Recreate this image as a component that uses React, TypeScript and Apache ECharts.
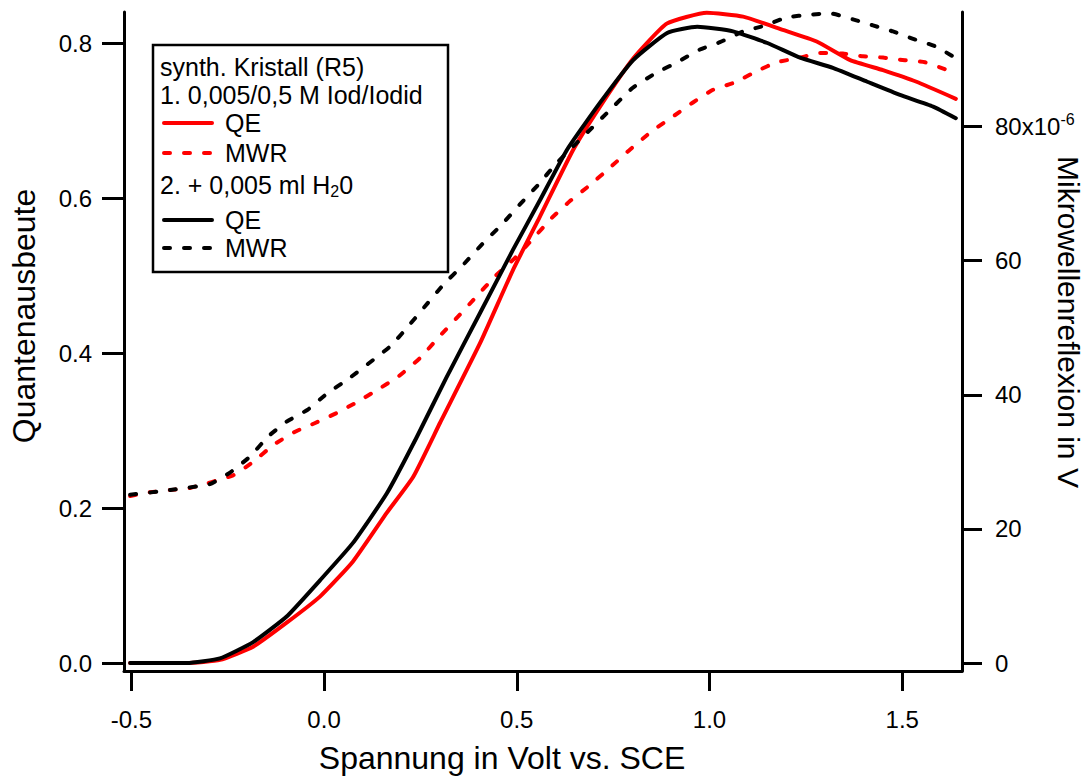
import React, { useEffect, useRef } from "react";
import * as echarts from "echarts";

// Series 1: synth. Kristall (R5), 0,005/0,5 M Iod/Iodid
const QE1_X = [-0.503, -0.356, -0.27, -0.184, -0.097, -0.01, 0.075, 0.163, 0.231, 0.301, 0.405, 0.49, 0.56, 0.646, 0.716, 0.802, 0.889, 0.993, 1.087, 1.19, 1.278, 1.365, 1.45, 1.537, 1.639];
const QE1_Y = [0.0, 0.0, 0.004, 0.021, 0.052, 0.086, 0.131, 0.194, 0.24, 0.31, 0.413, 0.507, 0.576, 0.662, 0.718, 0.78, 0.825, 0.839, 0.834, 0.817, 0.802, 0.778, 0.765, 0.75, 0.728];
const MWR1_X = [-0.503, -0.46, -0.399, -0.348, -0.236, -0.184, -0.132, -0.075, -0.023, 0.033, 0.085, 0.137, 0.192, 0.249, 0.296, 0.348, 0.396, 0.444, 0.495, 0.539, 0.591, 0.638, 0.69, 0.742, 0.794, 0.85, 0.905, 0.957, 1.009, 1.066, 1.123, 1.175, 1.235, 1.287, 1.346, 1.398, 1.45, 1.507, 1.559, 1.619];
const MWR1_Y = [24.9, 25.4, 25.8, 26.1, 28.0, 30.0, 32.5, 34.5, 35.8, 37.3, 38.9, 40.7, 42.7, 45.5, 48.5, 51.7, 54.7, 57.7, 60.4, 63.1, 66.4, 68.9, 71.3, 73.9, 76.6, 79.3, 81.5, 83.6, 85.5, 86.6, 88.3, 89.6, 90.3, 91.0, 90.9, 90.5, 90.3, 89.9, 89.6, 88.4];

// Series 2: + 0,005 ml H2O
const QE2_X = [-0.503, -0.356, -0.27, -0.184, -0.097, -0.01, 0.075, 0.163, 0.24, 0.318, 0.405, 0.49, 0.56, 0.63, 0.716, 0.802, 0.89, 0.968, 1.061, 1.15, 1.235, 1.32, 1.409, 1.494, 1.58, 1.639];
const QE2_Y = [0.0, 0.0, 0.006, 0.027, 0.06, 0.107, 0.155, 0.219, 0.291, 0.369, 0.452, 0.533, 0.597, 0.662, 0.723, 0.778, 0.813, 0.821, 0.815, 0.8, 0.781, 0.768, 0.75, 0.733, 0.718, 0.703];
const MWR2_X = [-0.503, -0.399, -0.296, -0.244, -0.192, -0.145, -0.097, -0.042, 0.01, 0.059, 0.171, 0.215, 0.262, 0.309, 0.361, 0.409, 0.461, 0.508, 0.555, 0.604, 0.742, 0.801, 0.864, 0.916, 0.975, 1.027, 1.087, 1.139, 1.201, 1.261, 1.313, 1.372, 1.424, 1.476, 1.528, 1.585, 1.637];
const MWR2_Y = [25.1, 25.8, 26.7, 28.4, 30.8, 33.8, 36.0, 37.8, 40.3, 42.2, 47.2, 50.0, 53.2, 56.4, 59.4, 62.4, 65.4, 68.4, 71.3, 74.6, 82.5, 85.8, 88.1, 89.6, 91.5, 92.6, 94.2, 95.0, 96.3, 96.7, 96.9, 96.0, 95.1, 94.2, 93.1, 92.0, 90.3];

const X_TICKS = [-0.5, 0, 0.5, 1.0, 1.5];
const Q_TICKS = [0, 0.2, 0.4, 0.6, 0.8];
const M_TICKS = [0, 20, 40, 60, 80];

const X_TITLE = "Spannung in Volt vs. SCE";
const Q_TITLE = "Quantenausbeute";
const M_TITLE = "Mikrowellenreflexion in V";
const LEGEND_HEAD_1 = "synth. Kristall (R5)";
const LEGEND_HEAD_2 = "1. 0,005/0,5 M Iod/Iodid";
const LEGEND_HEAD_3 = "2. + 0,005 ml H{sub|2}0";

const FONT = "'Liberation Sans', Arial, sans-serif";

const zip = (xs: number[], ys: number[]) => xs.map((x, i) => [x, ys[i]]);

export default function App() {
  const ref = useRef<HTMLDivElement>(null);
  useEffect(() => {
    if (!ref.current) return;
    const chart = echarts.init(ref.current, null, { renderer: "svg" });
    const dash = [6, 14];
    const mk = (name: string, xs: number[], ys: number[], color: string, dashed: boolean, yIdx: number) => ({
      name,
      type: "line",
      yAxisIndex: yIdx,
      data: zip(xs, ys),
      showSymbol: false,
      symbol: "none",
      smooth: 0.15,
      lineStyle: { color, width: 4, type: dashed ? dash : "solid", cap: "round", join: "round" },
      itemStyle: { color },
    });
    const legendCommon = {
      orient: "vertical",
      left: 162,
      padding: 0,
      itemWidth: 48,
      itemHeight: 14,
      selectedMode: false,
      formatter: (n: string) => n.trim(),
      itemStyle: { opacity: 0 },
      lineStyle: { width: 4, cap: "round" },
      textStyle: { fontSize: 25, fontFamily: FONT, color: "#000", padding: [0, 0, 0, 8] },
    };
    chart.setOption({
      animation: false,
      backgroundColor: "#fff",
      textStyle: { fontFamily: FONT },
      grid: { left: 124, right: 126, top: 12, bottom: 105 },
      xAxis: {
        type: "value",
        min: -0.519,
        max: 1.655,
        axisLine: { show: true, onZero: false, lineStyle: { color: "#000", width: 3 } },
        axisTick: { show: true, inside: false, length: 20, customValues: X_TICKS, lineStyle: { color: "#000", width: 3 } },
        axisLabel: { customValues: X_TICKS, formatter: (v: number) => v.toFixed(1), fontSize: 24, color: "#000", margin: 36, fontFamily: FONT },
        splitLine: { show: false },
      },
      yAxis: [
        {
          type: "value",
          position: "left",
          min: -0.0103,
          max: 0.84,
          axisLine: { show: true, onZero: false, lineStyle: { color: "#000", width: 3 } },
          axisTick: { show: true, inside: false, length: 22, customValues: Q_TICKS, lineStyle: { color: "#000", width: 3 } },
          axisLabel: { customValues: Q_TICKS, formatter: (v: number) => v.toFixed(1), fontSize: 24, color: "#000", margin: 32, fontFamily: FONT },
          splitLine: { show: false },
        },
        {
          type: "value",
          position: "right",
          min: -1.19,
          max: 97.1,
          axisLine: { show: true, onZero: false, lineStyle: { color: "#000", width: 3 } },
          axisTick: { show: true, inside: false, length: 20, customValues: M_TICKS, lineStyle: { color: "#000", width: 3 } },
          axisLabel: {
            customValues: M_TICKS,
            formatter: (v: number) => (v === 80 ? "{a|80x10}{s|-6}" : String(Math.round(v))),
            fontSize: 24,
            color: "#000",
            margin: 33,
            fontFamily: FONT,
            rich: {
              a: { fontSize: 24, fontFamily: FONT, color: "#000" },
              s: { fontSize: 16, fontFamily: FONT, color: "#000", padding: [0, 0, 14, 0] },
            },
          },
          splitLine: { show: false },
        },
      ],
      legend: [
        { ...legendCommon, top: 108, itemGap: 0, textStyle: { ...legendCommon.textStyle, lineHeight: 30 }, data: ["QE", "MWR"] },
        { ...legendCommon, top: 206, itemGap: 0, textStyle: { ...legendCommon.textStyle, lineHeight: 28 }, data: ["QE ", "MWR "] },
      ],
      graphic: [
        { type: "rect", z: 1, shape: { x: 153, y: 45, width: 295, height: 227 }, style: { fill: "none", stroke: "#000", lineWidth: 2.5 } },
        { type: "text", z: 5, x: 160, y: 67, style: { text: LEGEND_HEAD_1, font: `25px ${FONT}`, fill: "#000", textAlign: "left", textVerticalAlign: "middle" } },
        { type: "text", z: 5, x: 160, y: 95, style: { text: LEGEND_HEAD_2, font: `25px ${FONT}`, fill: "#000", textAlign: "left", textVerticalAlign: "middle" } },
        {
          type: "text", z: 5, x: 160, y: 185,
          style: {
            text: LEGEND_HEAD_3, font: `25px ${FONT}`, fill: "#000", textAlign: "left", textVerticalAlign: "middle",
            rich: { sub: { fontSize: 16, fontFamily: FONT, fill: "#000", padding: [12, 0, 0, 0] } },
          },
        },
        { type: "text", z: 5, x: 502, y: 758, style: { text: X_TITLE, font: `32px ${FONT}`, fill: "#000", textAlign: "center", textVerticalAlign: "middle" } },
        { type: "text", z: 5, x: 24, y: 316, rotation: Math.PI / 2, style: { text: Q_TITLE, font: `32px ${FONT}`, fill: "#000", textAlign: "center", textVerticalAlign: "middle" } },
        { type: "text", z: 5, x: 1068, y: 322, rotation: -Math.PI / 2, style: { text: M_TITLE, font: `30px ${FONT}`, fill: "#000", textAlign: "center", textVerticalAlign: "middle" } },
      ],
      series: [
        mk("QE", QE1_X, QE1_Y, "#ff0000", false, 0),
        mk("MWR", MWR1_X, MWR1_Y, "#ff0000", true, 1),
        mk("QE ", QE2_X, QE2_Y, "#000000", false, 0),
        mk("MWR ", MWR2_X, MWR2_Y, "#000000", true, 1),
      ],
    });
    return () => chart.dispose();
  }, []);
  return <div ref={ref} style={{ position: "fixed", left: 0, top: 0, width: 1088, height: 776 }} />;
}
